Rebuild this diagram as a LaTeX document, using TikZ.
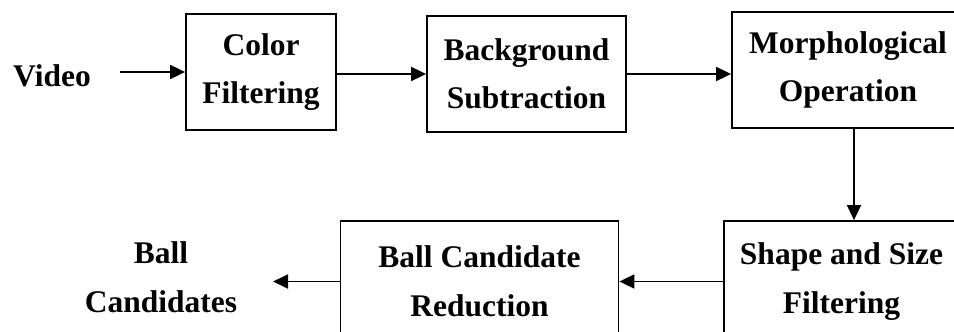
\documentclass[tikz,border=0pt]{standalone}
\usepackage{fontspec}
\setmainfont{Liberation Serif}
\usetikzlibrary{arrows.meta}
\begin{document}
\begin{tikzpicture}[x=1pt,y=-1pt,
  every node/.style={font=\fontsize{31.5}{48.5}\selectfont\bfseries, align=center, inner sep=0pt},
  stagebox/.style={draw, line width=1.8pt, minimum height=116pt},
  lowbox/.style={draw, line width=1.8pt, minimum height=121pt},
  flow/.style={line width=1.8pt, -{Triangle[length=15pt,width=14pt]}}]
  \useasboundingbox (0,0) rectangle (954,332);
  \clip (0,0) rectangle (954,332);

  % pipeline, top row
  \node (video) at (52,76) {Video};
  \node[stagebox, minimum width=150pt] (color) at (261,72) {Color\\Filtering};
  \node[stagebox, minimum width=199pt] (bg) at (526.5,74) {Background\\Subtraction};
  \node[stagebox, minimum width=232pt] (morph) at (848,70) {Morphological\\Operation};

  % pipeline, bottom row
  \node[lowbox, minimum width=235pt] (shape) at (841.5,281.5) {Shape and Size\\Filtering};
  \node[lowbox, minimum width=278pt] (bcr) at (479.5,281.5) {Ball Candidate\\Reduction};
  \node (cands) at (161,277) {Ball\\Candidates};
  \coordinate (outend) at (273,281.5);

  % connectors
  \draw[flow, shorten <=29pt] (video.east |- color.west) -- (color.west);
  \draw[flow] (color.east |- bg.west) -- (bg.west);
  \draw[flow] (bg.east) -- (morph.west |- bg.east);
  \draw[flow] ([xshift=6pt]morph.south) -- ([xshift=6pt]morph.south |- shape.north);
  \draw[flow] (shape.west) -- (bcr.east |- shape.west);
  \draw[flow] (bcr.west) -- (outend);
\end{tikzpicture}
\end{document}
